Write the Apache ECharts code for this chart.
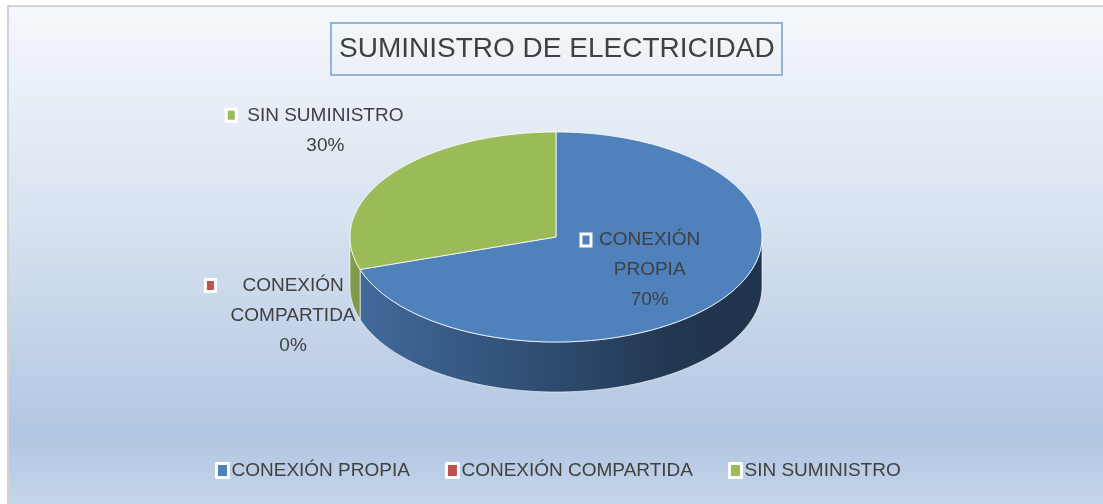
<!DOCTYPE html>
<html>
<head>
<meta charset="utf-8">
<style>
  html, body { margin: 0; padding: 0; background: #fff; }
  #chart { width: 1103px; height: 504px; }
</style>
</head>
<body>
<div id="chart"></div>
<script src="https://cdn.jsdelivr.net/npm/echarts@6/dist/echarts.min.js"></script>
<script>
// datos
var categories = ['CONEXIÓN PROPIA', 'CONEXIÓN COMPARTIDA', 'SIN SUMINISTRO'];
var values = [70, 0, 30];
var colors = ['#4f81bd', '#c0504d', '#9bbb59'];
var titleText = 'SUMINISTRO DE ELECTRICIDAD';

var FONT = '"Liberation Sans", Arial, sans-serif';
var TEXT = '#404040';

// geometria de la torta 3D (elipse + profundidad)
var cx = 556, cy = 237, rx = 206, ry = 105, depth = 50;

// posicion de etiquetas: factor radial + ajuste
var labelLayout = [
  {f: 0.55, dx: 2, dy: -1, wrap: true, gap: 7},
  {f: 1, dx: -67, dy: 46, wrap: true, gap: 26},
  {f: 1, dx: -64, dy: -45, wrap: false, gap: 10}
];

var total = values.reduce(function (a, b) { return a + b; }, 0);
var starts = [];
var acc = 0;
values.forEach(function (v) {
  starts.push(acc / total * 360);
  acc += v;
});

var measureCtx = document.createElement('canvas').getContext('2d');
measureCtx.font = '19px ' + FONT;

// angulo en grados, sentido horario desde las 12
function pt(deg, f, off) {
  var r = deg * Math.PI / 180;
  return [cx + f * rx * Math.sin(r), cy - f * ry * Math.cos(r) + (off || 0)];
}

function arc(a, b, off) {
  var steps = Math.max(2, Math.ceil(Math.abs(b - a) / 2));
  var pts = [];
  for (var k = 0; k <= steps; k++) {
    pts.push(pt(a + (b - a) * k / steps, 1, off));
  }
  return pts;
}

function shade(hex, k) {
  var n = parseInt(hex.slice(1), 16);
  var r = Math.round(((n >> 16) & 255) * k);
  var g = Math.round(((n >> 8) & 255) * k);
  var b = Math.round((n & 255) * k);
  return 'rgb(' + r + ',' + g + ',' + b + ')';
}

// paredes laterales (solo la mitad frontal)
function renderWall(params, api) {
  var i = params.dataIndex;
  var v = api.value(0);
  var a = starts[i], b = a + v / total * 360;
  var s = Math.max(a, 90), e = Math.min(b, 270);
  if (v <= 0 || e <= s) return {type: 'group', children: []};
  var pts = arc(s, e, 0).concat(arc(s, e, depth).reverse());
  return {
    type: 'polygon',
    shape: {points: pts},
    style: {
      fill: new echarts.graphic.LinearGradient(cx - rx, 0, cx + rx, 0, [
        {offset: 0, color: shade(colors[i], 0.83)},
        {offset: 0.5, color: shade(colors[i], 0.58)},
        {offset: 0.8, color: shade(colors[i], 0.42)},
        {offset: 1, color: shade(colors[i], 0.4)}
      ], true),
      stroke: 'rgba(255,255,255,0.6)',
      lineWidth: 1
    }
  };
}

// cara superior + etiquetas
function renderTop(params, api) {
  var i = params.dataIndex;
  var v = api.value(0);
  var a = starts[i], b = a + v / total * 360;
  var children = [];
  if (v > 0) {
    children.push({
      type: 'polygon',
      shape: {points: [[cx, cy]].concat(arc(a, b, 0))},
      style: {fill: colors[i], stroke: 'rgba(255,255,255,0.8)', lineWidth: 1}
    });
  }
  var lay = labelLayout[i];
  var p = pt((a + b) / 2, lay.f, 0);
  var x = p[0] + lay.dx, y = p[1] + lay.dy;
  var lines = lay.wrap ? categories[i].split(' ') : [categories[i]];
  lines.push(Math.round(v / total * 100) + '%');
  var lh = 30;
  var firstY = y - (lines.length - 1) / 2 * lh;
  var w = measureCtx.measureText(lines[0]).width;
  children.push({
    type: 'text',
    style: {
      text: lines.join('\n'),
      x: x,
      y: y,
      align: 'center',
      verticalAlign: 'middle',
      font: '19px ' + FONT,
      lineHeight: lh,
      fill: TEXT
    }
  });
  children.push({
    type: 'rect',
    shape: {x: x - w / 2 - lay.gap - 11, y: firstY - 6, width: 10, height: 12},
    style: {fill: colors[i], stroke: '#fff', lineWidth: 3}
  });
  return {type: 'group', children: children};
}

var pieData = categories.map(function (name, i) {
  return {name: name, value: values[i], itemStyle: {color: colors[i]}};
});

var chart = echarts.init(document.getElementById('chart'), null, {renderer: 'canvas'});
chart.setOption({
  animation: false,
  color: colors,
  graphic: [{
    type: 'rect',
    z: -10,
    shape: {x: 8, y: 6, width: 1100, height: 500},
    style: {
      fill: new echarts.graphic.LinearGradient(0, 0, 0, 1, [
        {offset: 0, color: '#f5f8fc'},
        {offset: 0.45, color: '#d6e1ef'},
        {offset: 0.86, color: '#b1c6e1'},
        {offset: 1, color: '#c6d6ea'}
      ]),
      stroke: '#d2d2d2',
      lineWidth: 2
    }
  }],
  title: {
    text: titleText,
    left: 331,
    top: 23,
    padding: [9, 8],
    borderColor: '#95b3d7',
    borderWidth: 2,
    textStyle: {
      fontFamily: FONT,
      fontSize: 28,
      fontWeight: 'normal',
      color: TEXT,
      lineHeight: 34
    }
  },
  legend: {
    data: categories,
    left: 210,
    top: 456,
    itemGap: 35,
    itemWidth: 12,
    itemHeight: 14,
    icon: 'rect',
    itemStyle: {opacity: 1, borderColor: '#fff', borderWidth: 3},
    textStyle: {fontFamily: FONT, fontSize: 19, color: TEXT, padding: [0, 0, 0, -2]},
    selectedMode: false
  },
  series: [{
    type: 'custom',
    name: 'paredes',
    coordinateSystem: 'none',
    z: 2,
    silent: true,
    renderItem: renderWall,
    data: values
  }, {
    type: 'custom',
    name: 'superficie',
    coordinateSystem: 'none',
    z: 3,
    silent: true,
    renderItem: renderTop,
    data: values
  }, {
    // solo para la leyenda
    type: 'pie',
    radius: [0, 0],
    center: [cx, cy],
    silent: true,
    label: {show: false},
    labelLine: {show: false},
    itemStyle: {opacity: 0},
    data: pieData
  }]
});
</script>
</body>
</html>
